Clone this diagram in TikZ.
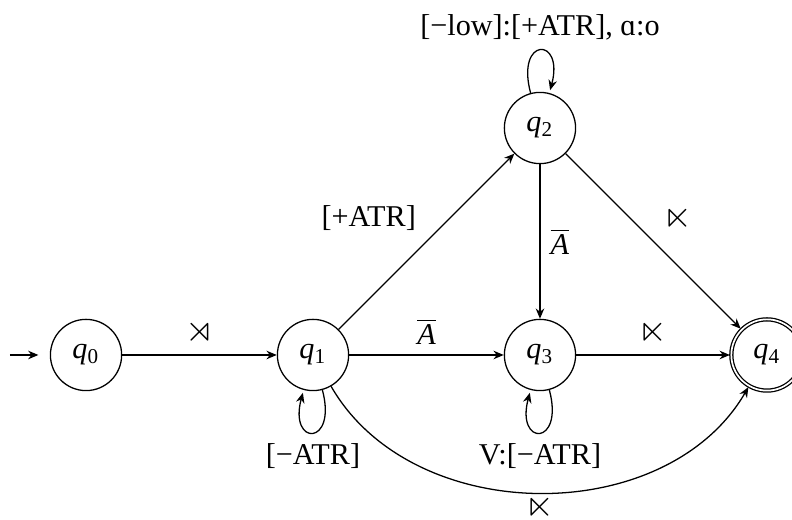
\documentclass[tikz,border=0pt]{standalone}
\usepackage{amsmath,amssymb,graphicx}
\usepackage{fontspec}
\setmainfont[Scale=1.06]{Liberation Serif}
\usetikzlibrary{arrows.meta,positioning,automata}

% state names and edge symbols
\newcommand{\qst}[1]{\textit{q}\textsubscript{#1}}
\newcommand{\lbnd}{\scalebox{1.3}{$\rtimes$}}
\newcommand{\rbnd}{\scalebox{1.3}{$\ltimes$}}
\newcommand{\abar}{$\overline{\textit{A}}$}

\begin{document}
\begin{tikzpicture}[>={Stealth[length=3.6pt,width=3pt]}, line width=0.45pt,
    node distance=2.8cm, on grid, auto,
    every state/.style={draw, minimum size=25pt, inner sep=0pt}]
  % keep the page the size of the reference
  \useasboundingbox (-30.2pt,-57.9pt) rectangle (247.8pt,124.6pt);
  \node[state] (q0) {\qst{0}};
  \node[state, right=of q0] (q1) {\qst{1}};
  \node[state, right=of q1] (q3) {\qst{3}};
  \node[state, above=of q3] (q2) {\qst{2}};
  \node[state, accepting, right=of q3] (q4) {\qst{4}};
  \coordinate[left=0.94cm of q0] (start);

  \draw[->, shorten >=4pt] (start) -- (q0);
  \path[->]
    (q0) edge node {\lbnd} (q1)
    (q1) edge node {\abar} (q3)
         edge node {[+ATR]} (q2)
         edge[loop below] node {[−ATR]} ()
         edge[bend right=60, swap] node[inner sep=0.5pt] {\rbnd} (q4)
    (q2) edge node {\abar} (q3)
         edge node {\rbnd} (q4)
         edge[loop above] node {[−low]:[+ATR], ɑ:o} ()
    (q3) edge node {\rbnd} (q4)
         edge[loop below] node {V:[−ATR]} ();
\end{tikzpicture}
\end{document}
